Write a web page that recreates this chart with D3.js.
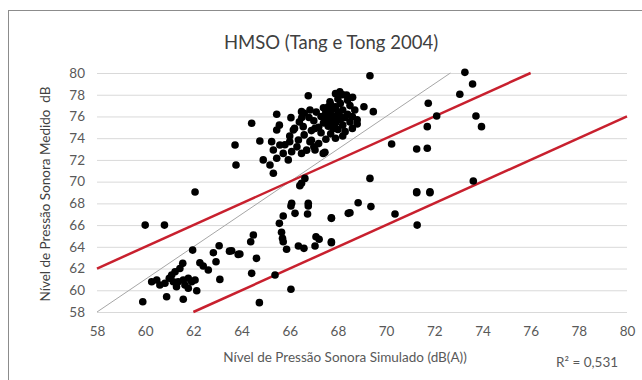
<!DOCTYPE html>
<html>
<head>
<meta charset="utf-8">
<script src="https://cdn.jsdelivr.net/npm/d3@7"></script>
<style>
  html, body { margin: 0; padding: 0; background: #fff; }
  svg { display: block; }
</style>
</head>
<body>
<svg id="chart" width="642" height="380"></svg>
<script>
// ---- data ----
const title = "HMSO (Tang e Tong 2004)";
const xTitle = "Nível de Pressão Sonora Simulado (dB(A))";
const yTitle = "Nível de Pressão Sonora Medido  dB";
const r2Label = "R² = 0,531";
const xTicks = [58, 60, 62, 64, 66, 68, 70, 72, 74, 76, 78, 80];
const yTicks = [58, 60, 62, 64, 66, 68, 70, 72, 74, 76, 78, 80];

// simulated (x) and measured (y) levels
const simulado = [
  // lower-left cluster
  60.0, 60.8, 61.97, 63.07, 62.83, 63.5, 63.86, 62.94, 62.27, 62.41, 62.62, 61.56, 61.44, 61.24, 61.1, 61.0,
  60.27, 60.48, 60.61, 60.82, 61.17, 61.37, 61.58, 61.79, 61.93, 62.07, 61.65, 61.3, 61.79, 62.14, 60.89, 61.58,
  59.9, 63.1, 62.07,
  // middle-lower group
  66.05, 66.77, 66.22, 66.74, 65.73, 67.73, 68.43, 65.57, 65.66, 65.7, 65.73, 65.87, 64.49, 64.38, 63.59, 63.93,
  64.62, 66.36, 66.59, 67.09, 67.22, 67.05, 67.73, 64.42, 65.39, 66.05, 64.74,
  // upper cluster (left part)
  66.77, 65.46, 66.05, 66.49, 66.84, 64.42, 65.57, 65.46, 66.15, 66.56, 67.05, 63.73, 64.76, 65.25, 65.59, 66.0,
  66.36, 66.84, 65.32, 65.73, 66.08, 66.49, 67.05, 67.39, 65.46, 65.94, 64.9, 65.18, 63.77, 65.32, 66.63, 66.49,
  66.42, 66.08, 66.77, 67.67,
  // upper cluster (dense core)
  67.3, 67.5, 67.7, 67.9, 68.1, 67.6, 67.8, 68.0, 68.2, 68.4, 67.4, 67.6, 67.9, 68.1, 68.3, 68.5,
  68.6, 67.2, 67.0, 66.8, 67.1, 67.4, 67.7, 68.0, 68.2, 67.9, 68.4, 66.9, 67.3, 67.7, 68.0, 68.3,
  68.6, 68.8, 67.5, 67.9, 68.2, 66.6, 66.9, 67.2, 66.6, 66.4, 66.2, 66.0, 65.8, 66.3, 66.7, 67.0,
  66.5, 68.7, 68.5, 68.8,
  67.6, 67.8, 68.0, 67.7, 67.5, 67.9, 68.1, 67.8, 67.6, 68.2, 67.4, 67.8,
  // upper right scattered
  69.33, 68.08, 68.36, 68.61, 69.08, 69.47, 70.23, 71.27, 67.46,
  73.27, 73.59, 73.06, 71.75, 72.1, 73.73, 73.96, 71.71, 71.71, 73.62, 71.27, 71.82,
  69.33, 71.27, 71.82, 68.84, 68.5, 69.37, 67.73, 70.37, 71.29, 67.73
];
const medido = [
  66.0, 66.0, 63.7, 64.1, 63.46, 63.6, 63.3, 62.63, 62.54, 62.23, 61.87, 62.48, 62.0, 61.71, 61.4, 61.1,
  60.79, 60.95, 60.49, 60.64, 60.79, 60.79, 60.95, 61.1, 60.79, 60.95, 60.49, 60.33, 60.18, 59.96, 59.41, 59.17,
  58.95, 61.0, 69.05,
  67.76, 67.76, 67.08, 67.02, 66.84, 66.68, 67.08, 66.16, 65.33, 64.78, 64.47, 63.77, 65.09, 64.47, 63.64, 63.34,
  62.94, 64.07, 63.86, 64.93, 64.69, 64.07, 64.38, 61.56, 61.4, 60.09, 58.86,
  77.9, 76.2, 75.89, 76.44, 76.6, 75.37, 75.2, 74.75, 74.75, 75.06, 74.9, 73.37, 73.74, 73.68, 73.37, 73.68,
  73.83, 73.68, 72.91, 72.6, 72.76, 72.6, 72.91, 72.6, 72.15, 72.0, 72.0, 71.53, 71.53, 70.77, 70.3, 69.85,
  69.63, 68.0, 68.0, 77.36,
  76.0, 76.3, 76.6, 76.9, 77.2, 75.7, 76.0, 76.3, 76.6, 76.2, 75.4, 75.1, 75.4, 75.7, 75.9, 75.5,
  76.0, 75.0, 75.6, 75.9, 76.4, 76.8, 77.1, 77.6, 78.0, 78.1, 77.5, 74.7, 74.5, 74.4, 74.8, 74.6,
  74.9, 75.3, 73.9, 74.0, 74.2, 74.3, 73.8, 73.5, 76.3, 75.5, 74.9, 74.2, 73.4, 73.2, 72.9, 73.2,
  75.9, 76.6, 77.0, 75.7,
  75.8, 75.5, 75.9, 76.2, 76.5, 76.7, 76.0, 75.3, 76.9, 75.2, 75.9, 74.9,
  79.75, 78.28, 77.97, 77.76, 76.9, 76.44, 73.46, 73.0, 72.7,
  80.06, 78.99, 78.04, 77.21, 76.04, 76.04, 75.06, 75.06, 73.07, 70.06, 69.07, 69.07,
  70.3, 68.98, 68.98, 68.06, 67.14, 67.7, 66.62, 67.02, 66.0, 64.47
];
// reference lines (data units)
const refLine = [[58, 58], [72.67, 80]];
const upperLine = [[58, 62], [76, 80]];
const lowerLine = [[62, 58], [80, 76]];

// ---- drawing ----
const svg = d3.select("#chart");
const font = "Lato, 'Open Sans', sans-serif";

svg.append("rect").attr("x", 8.5).attr("y", 10.5).attr("width", 640).attr("height", 400)
  .attr("fill", "#fff").attr("stroke", "#8c8c8c").attr("stroke-width", 1);

const plot = { left: 97, right: 627, top: 73, bottom: 312 };
const x = d3.scaleLinear().domain([58, 80]).range([plot.left, plot.right]);
const y = d3.scaleLinear().domain([58, 80]).range([plot.bottom, plot.top]);

// gridlines via axis
const yGrid = d3.axisLeft(y).tickValues(yTicks).tickSize(-(plot.right - plot.left)).tickFormat("");
svg.append("g").attr("transform", `translate(${plot.left},0)`).call(yGrid)
  .call(g => g.select(".domain").remove())
  .call(g => g.selectAll("line").attr("stroke", "#d9d9d9").attr("stroke-width", 1));

// y tick labels
const yAxis = d3.axisLeft(y).tickValues(yTicks).tickSize(0).tickPadding(12).tickFormat(d3.format("d"));
svg.append("g").attr("transform", `translate(${plot.left},0)`).call(yAxis)
  .call(g => g.select(".domain").remove())
  .call(g => g.selectAll("text").attr("fill", "#595959").style("font-family", font).style("font-size", "13.5px"));

// x tick labels
const xAxis = d3.axisBottom(x).tickValues(xTicks).tickSize(0).tickPadding(14).tickFormat(d3.format("d"));
svg.append("g").attr("transform", `translate(0,${plot.bottom})`).call(xAxis)
  .call(g => g.select(".domain").remove())
  .call(g => g.selectAll("text").attr("fill", "#595959").style("font-family", font).style("font-size", "13.5px"));

// lines
const line = d3.line().x(d => x(d[0])).y(d => y(d[1]));
svg.append("path").datum(refLine).attr("d", line).attr("stroke", "#a6a6a6").attr("stroke-width", 1).attr("fill", "none");
svg.append("path").datum(upperLine).attr("d", line).attr("stroke", "#c8202e").attr("stroke-width", 2.5).attr("fill", "none");
svg.append("path").datum(lowerLine).attr("d", line).attr("stroke", "#c8202e").attr("stroke-width", 2.5).attr("fill", "none");

// points
const pts = simulado.map((s, i) => [s, medido[i]]);
svg.append("g").selectAll("circle").data(pts).join("circle")
  .attr("cx", d => x(d[0])).attr("cy", d => y(d[1])).attr("r", 3.8).attr("fill", "#000");

// texts
svg.append("text").attr("x", 331).attr("y", 49).attr("text-anchor", "middle")
  .style("font-family", font).style("font-size", "18.5px").attr("fill", "#404040").text(title);
svg.append("text").attr("x", 345).attr("y", 362).attr("text-anchor", "middle")
  .style("font-family", font).style("font-size", "13.5px").attr("fill", "#595959").text(xTitle);
svg.append("text").attr("transform", "translate(50,194) rotate(-90)").attr("text-anchor", "middle")
  .style("font-family", font).style("font-size", "13.5px").attr("fill", "#404040")
  .attr("xml:space", "preserve").text(yTitle);
svg.append("text").attr("x", 556).attr("y", 367)
  .style("font-family", font).style("font-size", "13.5px").attr("fill", "#595959").text(r2Label);
</script>
</body>
</html>
